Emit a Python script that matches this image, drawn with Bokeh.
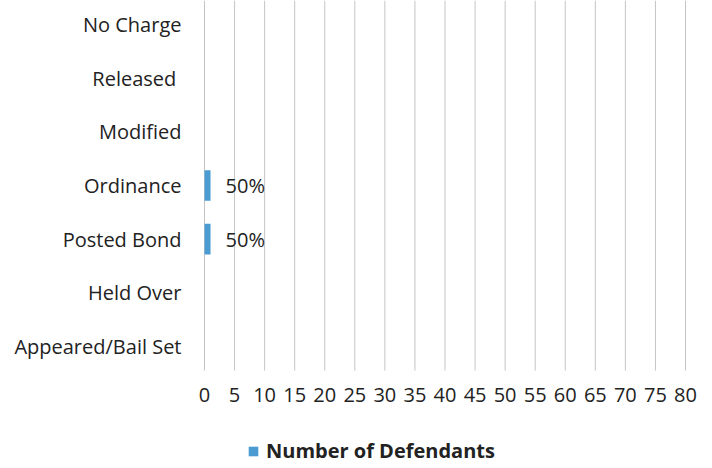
from bokeh.plotting import figure
from bokeh.models import ColumnDataSource, LabelSet, Legend, LegendItem, FixedTicker, Range1d, LinearAxis
from bokeh.core.properties import value
from bokeh.embed import file_html
from bokeh.resources import INLINE

categories = ["Appeared/Bail Set", "Held Over", "Posted Bond", "Ordinance", "Modified", "Released ", "No Charge"]
values = [0, 0, 1, 1, 0, 0, 0]
pct_labels = ["", "", "50%", "50%", "", "", ""]
x_ticks = list(range(0, 85, 5))
series_name = "Number of Defendants"

FONT = "Open Sans"
BAR = "#4a9bd2"
FS = "20px"
Y_LO, Y_HI = -0.447, 6.447

pos = list(range(len(categories)))
src = ColumnDataSource(dict(y=pos, v=values, lab=pct_labels, cat=categories))
gsrc = ColumnDataSource(dict(x=x_ticks, y0=[Y_LO] * len(x_ticks), y1=[Y_HI] * len(x_ticks)))

p = figure(width=712, height=468, output_backend="svg", toolbar_location=None,
           x_axis_location=None, y_axis_location=None,
           x_range=Range1d(-33.93, 84.49), y_range=Range1d(-2.273, Y_HI),
           min_border_left=0, min_border_right=0, min_border_top=0, min_border_bottom=0)
p.outline_line_color = None
p.background_fill_color = "white"
p.xgrid.grid_line_color = None
p.ygrid.grid_line_color = None

# vertical gridlines, limited to the plot area
p.segment(x0="x", x1="x", y0="y0", y1="y1", source=gsrc, line_color="#c4c4c4", line_width=1)

r = p.hbar(y="y", right="v", left=0, height=0.57, source=src, fill_color=BAR, line_color=None)

p.add_layout(LabelSet(x="v", y="y", text="lab", source=src, x_offset=15, text_baseline="middle",
                      text_font=value(FONT), text_font_size=FS, text_color="#222222"))

xaxis = LinearAxis(fixed_location=Y_LO, ticker=FixedTicker(ticks=x_ticks))
xaxis.axis_line_color = None
xaxis.major_tick_line_color = None
xaxis.minor_tick_line_color = None
xaxis.major_tick_out = 0
xaxis.major_tick_in = 0
xaxis.major_label_standoff = 18
xaxis.major_label_text_font = FONT
xaxis.major_label_text_font_size = FS
xaxis.major_label_text_color = "#222222"
p.add_layout(xaxis, "below")

yaxis = LinearAxis(fixed_location=0, ticker=FixedTicker(ticks=pos))
yaxis.major_label_overrides = {i: c for i, c in enumerate(categories)}
yaxis.axis_line_color = None
yaxis.major_tick_line_color = None
yaxis.minor_tick_line_color = None
yaxis.major_tick_out = 0
yaxis.major_tick_in = 0
yaxis.major_label_standoff = 23
yaxis.major_label_text_font = FONT
yaxis.major_label_text_font_size = FS
yaxis.major_label_text_color = "#222222"
p.add_layout(yaxis, "left")

legend = Legend(items=[LegendItem(label=series_name, renderers=[r])],
                location=(247, 4), orientation="horizontal", border_line_color=None,
                background_fill_alpha=0, padding=0, margin=0, glyph_width=12, glyph_height=12,
                label_text_font=FONT, label_text_font_size=FS, label_text_font_style="bold",
                label_text_color="#222222", label_standoff=7)
p.add_layout(legend, "center")

open("out.html", "w").write(file_html(p, INLINE))
